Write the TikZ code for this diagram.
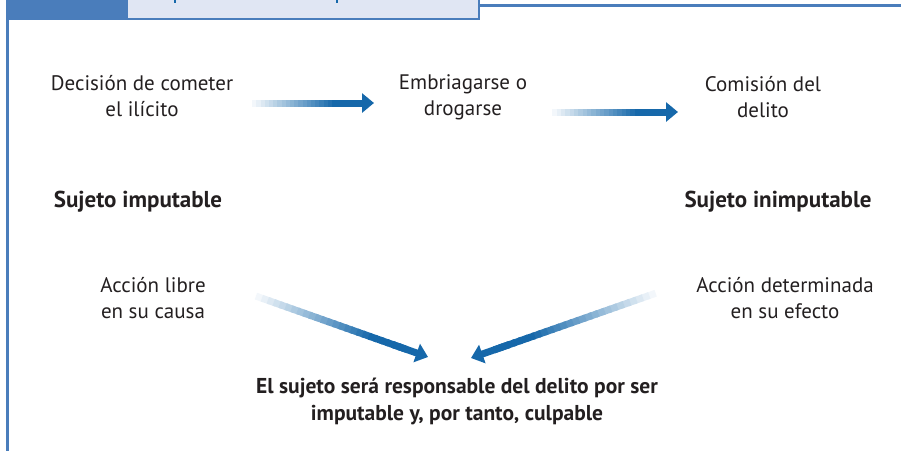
\documentclass[tikz,border=0pt]{standalone}
\usepackage{fontspec}
\setmainfont{PT Sans}
\usetikzlibrary{arrows.meta,calc}
\definecolor{frameblue}{RGB}{74,125,187}
\definecolor{tabfill}{RGB}{224,230,243}
\definecolor{arrowblue}{RGB}{22,104,170}
\definecolor{inkgray}{RGB}{35,31,32}
% shaded thick arrow from #1 to #2
\newcommand{\fadearrow}[2]{%
  \foreach \k in {0,...,25}{%
    \pgfmathtruncatemacro{\tint}{min(100,\k*5)}%
    \pgfmathsetmacro{\ta}{\k/30}%
    \pgfmathsetmacro{\tb}{(\k+1.4)/30}%
    \draw [line width=7pt, arrowblue!\tint!white] ($(#1)!\ta!(#2)$) -- ($(#1)!\tb!(#2)$);
  }
  \draw [line width=7pt, arrowblue, -{Triangle[length=12pt,width=19pt]}] ($(#1)!0.8!(#2)$) -- (#2);
}
\begin{document}
\begin{tikzpicture}[x=1pt,y=-1pt,
  txt/.style={text=inkgray, align=center, font=\fontsize{21}{26}\selectfont},
  head/.style={txt, font=\fontsize{23}{27}\selectfont\bfseries},
  result/.style={txt, font=\fontsize{21.5}{27}\selectfont\bfseries}]
\useasboundingbox (0,0) rectangle (901,451);
% frame and tab
\fill [frameblue] (6,0) rectangle (128,20);
\fill [tabfill] (128,0) rectangle (478,18);
\draw [frameblue, line width=2.5pt] (128,19) -- (479,19) -- (479,0);
\draw [frameblue, line width=2.5pt] (479,5.5) -- (901,5.5);
\draw [frameblue, line width=2.5pt] (7.5,19) -- (7.5,451);
\fill [arrowblue] (174,0) rectangle (176,3);
\fill [arrowblue] (336,0) rectangle (338,3);
% texts
\node [txt] (dec) at (142,96) {Decisión de cometer\\el ilícito};
\node [txt] (emb) at (463,97) {Embriagarse o\\drogarse};
\node [txt] (com) at (763,97) {Comisión del\\delito};
\node [head] (imp) at (138,202) {Sujeto imputable};
\node [head] (inimp) at (778,202) {Sujeto inimputable};
\node [txt] (libre) at (153,298) {Acción libre\\en su causa};
\node [txt] (deter) at (785,298) {Acción determinada\\en su efecto};
\node [result] (resp) at (457,401) {El sujeto será responsable del delito por ser\\imputable y, por tanto, culpable};
% arrow ends
\coordinate (a1) at (248,103);
\coordinate (b1) at (374,103);
\coordinate (a2) at (548,112);
\coordinate (b2) at (678,112);
\coordinate (a3) at (250,294);
\coordinate (b3) at (428,357);
\coordinate (a4) at (662,291);
\coordinate (b4) at (471,358);
\fadearrow{a1}{b1}
\fadearrow{a2}{b2}
\fadearrow{a3}{b3}
\fadearrow{a4}{b4}
\end{tikzpicture}
\end{document}
